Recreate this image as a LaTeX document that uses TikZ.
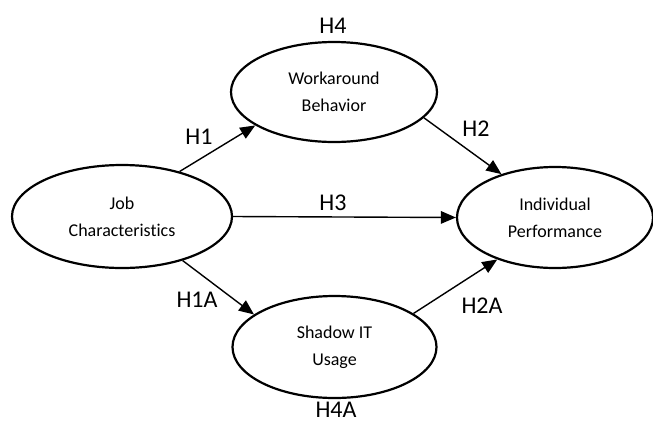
\documentclass[tikz,border=0pt]{standalone}
\usepackage{fontspec}
\setmainfont[Ligatures=NoCommon]{Carlito}
\usetikzlibrary{shapes.geometric,arrows.meta}
\begin{document}
\begin{tikzpicture}[x=1pt,y=-1pt,
  construct/.style={ellipse,draw,line width=2.2pt,inner sep=0pt,align=center,
    font=\fontsize{18}{27}\selectfont},
  hyp/.style={font=\fontsize{24}{28}\selectfont,inner sep=0pt},
  link/.style={line width=1.4pt,-{Triangle[length=15pt,width=12.5pt]}}]
\useasboundingbox (0,0) rectangle (653,424);
\node[construct,minimum width=220pt,minimum height=103pt] (job) at (122,216.5) {Job\\Characteristics};
\node[construct,minimum width=206pt,minimum height=100pt] (wb) at (334,92) {Workaround\\Behavior};
\node[construct,minimum width=204pt,minimum height=102pt] (sit) at (334.5,347) {Shadow IT\\Usage};
\node[construct,minimum width=196pt,minimum height=101pt] (ip) at (555,217.5) {Individual\\Performance};
\node[hyp] (h4) at (333,26) {H4};
\node[hyp] (h1) at (199,137) {H1};
\node[hyp] (h2) at (476,129) {H2};
\node[hyp] (h3) at (333,203) {H3};
\node[hyp] (h1a) at (197,300) {H1A};
\node[hyp] (h2a) at (482,306) {H2A};
\node[hyp] (h4a) at (336,410) {H4A};
\draw[link] (job.38) -- (wb.-157);
\draw[link] (job.-36) -- (sit.158.6);
\draw[link] (job.east) -- (ip.west);
\draw[link] (wb.-16) -- (ip.141.5);
\draw[link] (sit.23) -- (ip.216);
\end{tikzpicture}
\end{document}
